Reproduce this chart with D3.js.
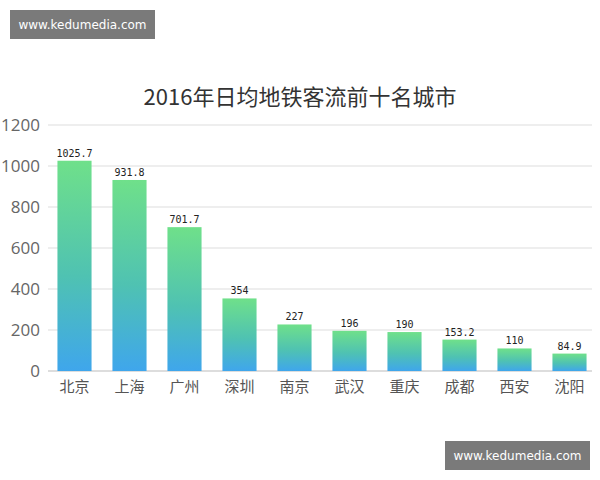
<!DOCTYPE html>
<html><head><meta charset="utf-8">
<script src="https://cdn.jsdelivr.net/npm/d3@7"></script>
<style>body{margin:0;background:#fff}</style></head>
<body><svg id="c" width="600" height="480"></svg>
<script>
const cities = ["北京","上海","广州","深圳","南京","武汉","重庆","成都","西安","沈阳"];
const values = [1025.7,931.8,701.7,354,227,196,190,153.2,110,84.9];
const labels = ["1025.7","931.8","701.7","354","227","196","190","153.2","110","84.9"];
const yTicks = [0,200,400,600,800,1000,1200];

const svg = d3.select("#c");
const font = "'Noto Sans CJK SC', sans-serif";

// background panel
svg.append("rect").attr("x",0).attr("y",60).attr("width",600).attr("height",340).attr("fill","#fff");

const x = d3.scaleBand().domain(cities).range([47,597]).paddingInner(0.38).paddingOuter(0.19);
const y = d3.scaleLinear().domain([0,1200]).range([371,125]);

const grad = svg.append("defs").append("linearGradient").attr("id","g")
  .attr("x1",0).attr("y1",0).attr("x2",0).attr("y2",1);
grad.append("stop").attr("offset","0%").attr("stop-color","#6fe08a");
grad.append("stop").attr("offset","55%").attr("stop-color","#4fc2b2");
grad.append("stop").attr("offset","100%").attr("stop-color","#3fa6ec");

svg.append("text").attr("x",300).attr("y",105).attr("text-anchor","middle")
  .attr("font-family",font).attr("font-size",22).attr("fill","#333")
  .text("2016年日均地铁客流前十名城市");

svg.append("g").selectAll("line").data(yTicks).join("line")
  .attr("x1",48).attr("x2",592).attr("y1",d=>y(d)).attr("y2",d=>y(d))
  .attr("stroke",d=>d===0?"#bbb":"#ddd").attr("stroke-width",1);

svg.append("g").selectAll("text").data(yTicks).join("text")
  .attr("x",40).attr("y",d=>y(d)+6).attr("text-anchor","end")
  .attr("font-family","'Open Sans', sans-serif").attr("font-size",17).attr("fill","#666")
  .text(d=>d);

svg.append("g").selectAll("rect").data(values).join("rect")
  .attr("x",(d,i)=>x(cities[i])).attr("width",x.bandwidth())
  .attr("y",d=>y(d)).attr("height",d=>y(0)-y(d)).attr("fill","url(#g)");

svg.append("g").selectAll("text").data(values).join("text")
  .attr("x",(d,i)=>x(cities[i])+x.bandwidth()/2).attr("y",d=>y(d)-4)
  .attr("text-anchor","middle").attr("font-family","'DejaVu Sans Mono', monospace")
  .attr("font-size",10).attr("fill","#222").text((d,i)=>labels[i]);

svg.append("g").selectAll("text").data(cities).join("text")
  .attr("x",d=>x(d)+x.bandwidth()/2).attr("y",392).attr("text-anchor","middle")
  .attr("font-family",font).attr("font-size",15).attr("fill","#555").text(d=>d);

// watermark boxes
[[10,10],[445,441]].forEach(([bx,by])=>{
  svg.append("rect").attr("x",bx).attr("y",by).attr("width",145).attr("height",29).attr("fill","#7a7a7a");
  svg.append("text").attr("x",bx+72.5).attr("y",by+19).attr("text-anchor","middle")
    .attr("font-family","'DejaVu Sans', sans-serif").attr("font-size",12).attr("fill","#fff")
    .text("www.kedumedia.com");
});
</script></body></html>
